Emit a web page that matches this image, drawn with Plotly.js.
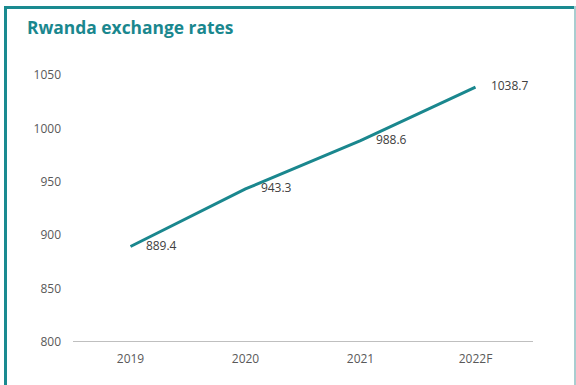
<!DOCTYPE html>
<html>
<head>
<meta charset="utf-8">
<script src="https://cdn.plot.ly/plotly-3.0.1.min.js"></script>
<style>
html,body{margin:0;padding:0;background:#fff;}
#wrap{position:relative;width:576px;height:385px;overflow:hidden;}
#chart{position:absolute;left:0;top:0;width:576px;height:385px;}
.b{position:absolute;background:#1a8a90;}
</style>
</head>
<body>
<div id="wrap">
<div id="chart"></div>
<div class="b" style="left:4px;top:6px;width:570px;height:3px;"></div>
<div class="b" style="left:4px;top:6px;width:3px;height:379px;"></div>
<div class="b" style="left:574px;top:6px;width:2px;height:379px;background:#a9cdd0;"></div>
</div>
<script>
const categories = ["2019", "2020", "2021", "2022F"];
const rates = [889.4, 943.3, 988.6, 1038.7];
const labels = ["889.4", "943.3", "988.6", "1038.7"];
const yTicks = [800, 850, 900, 950, 1000, 1050];

const trace = {
  x: categories,
  y: rates,
  type: "scatter",
  mode: "lines+markers+text",
  line: {color: "#1a878e", width: 3},
  marker: {size: 23, color: "rgba(0,0,0,0)"},
  text: labels,
  textposition: "middle right",
  textfont: {family: "Open Sans, sans-serif", size: 12, color: "#404040"},
  cliponaxis: false,
  hoverinfo: "none"
};

const layout = {
  width: 576,
  height: 385,
  margin: {l: 73, r: 43, t: 75, b: 43},
  paper_bgcolor: "#ffffff",
  plot_bgcolor: "#ffffff",
  showlegend: false,
  title: {
    text: "<b>Rwanda exchange rates</b>",
    x: 27/576, xanchor: "left",
    y: 1 - 28/385, yanchor: "middle",
    font: {family: "Open Sans, sans-serif", size: 17.4, color: "#1a878e"}
  },
  xaxis: {
    type: "category",
    range: [-0.5, 3.5],
    showgrid: false,
    zeroline: false,
    showline: false,
    ticks: "",
    tickfont: {family: "Open Sans, sans-serif", size: 12, color: "#595959"},
    ticklabelstandoff: 8
  },
  yaxis: {
    range: [800, 1050],
    tickvals: yTicks,
    ticktext: yTicks.map(String),
    showgrid: false,
    zeroline: false,
    showline: false,
    ticks: "",
    tickfont: {family: "Open Sans, sans-serif", size: 12, color: "#595959"},
    ticklabelstandoff: 11
  },
  shapes: [{
    type: "line", xref: "paper", yref: "y",
    x0: 0, x1: 1, y0: 800, y1: 800,
    line: {color: "#bfbfbf", width: 2}
  }]
};

Plotly.newPlot("chart", [trace], layout, {displayModeBar: false, staticPlot: true});
</script>
</body>
</html>
